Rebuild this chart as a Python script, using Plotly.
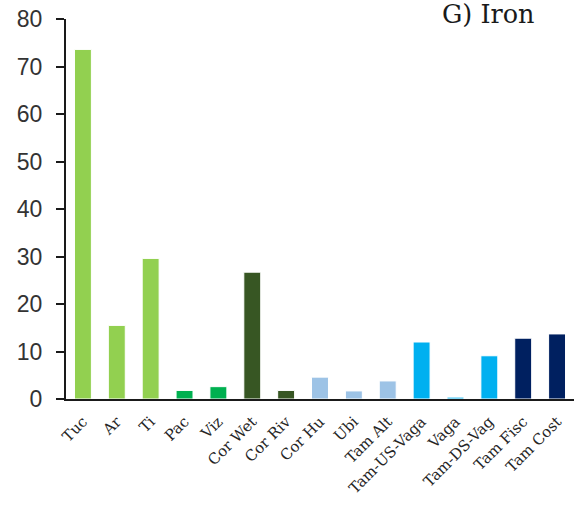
import plotly.graph_objects as go

categories = ["Tuc", "Ar", "Ti", "Pac", "Viz", "Cor Wet", "Cor Riv", "Cor Hu", "Ubi",
              "Tam Alt", "Tam-US-Vaga", "Vaga", "Tam-DS-Vag", "Tam Fisc", "Tam Cost"]
values = [73.6, 15.5, 29.6, 1.8, 2.6, 26.7, 1.8, 4.6, 1.7, 3.8, 12.0, 0.4, 9.1, 12.8, 13.7]
colors = ["#92D050", "#92D050", "#92D050", "#00B050", "#00B050", "#375623", "#375623",
          "#9DC3E6", "#9DC3E6", "#9DC3E6", "#00B0F0", "#00B0F0", "#00B0F0", "#002060", "#002060"]
y_ticks = [0, 10, 20, 30, 40, 50, 60, 70, 80]
title_text = "G) Iron"

fig = go.Figure(go.Bar(
    x=categories, y=values,
    marker=dict(color=colors, line=dict(color="white", width=1)),
    width=0.5,
))

fig.update_layout(
    width=574, height=506,
    margin=dict(l=66, r=0, t=19, b=107),
    paper_bgcolor="white", plot_bgcolor="white",
    showlegend=False,
    annotations=[dict(text=title_text, x=0.83, xref="paper", y=1.012, yref="paper",
                      xanchor="center", yanchor="middle", showarrow=False,
                      font=dict(family="DejaVu Serif", size=25.5, color="#1a1a1a"))],
)
fig.update_xaxes(
    type="category", range=[-0.5, 14.5],
    showline=True, linecolor="#1a1a1a", linewidth=2,
    ticks="", tickangle=-45, ticklabelstandoff=6,
    tickfont=dict(family="DejaVu Serif", size=15, color="#262626"),
    showgrid=False,
)
fig.update_yaxes(
    range=[0, 80], tickvals=y_ticks,
    showline=True, linecolor="#1a1a1a", linewidth=2,
    ticks="outside", ticklen=8, tickwidth=2, tickcolor="#1a1a1a",
    ticklabelstandoff=9,
    tickfont=dict(family="Liberation Sans", size=23, color="#333333"),
    showgrid=False, zeroline=False,
    ticklabeloverflow="allow",
)

fig.write_html("out.html",
               config={"displayModeBar": False},
               post_script="document.body.style.margin='0';document.body.style.overflow='hidden';")
